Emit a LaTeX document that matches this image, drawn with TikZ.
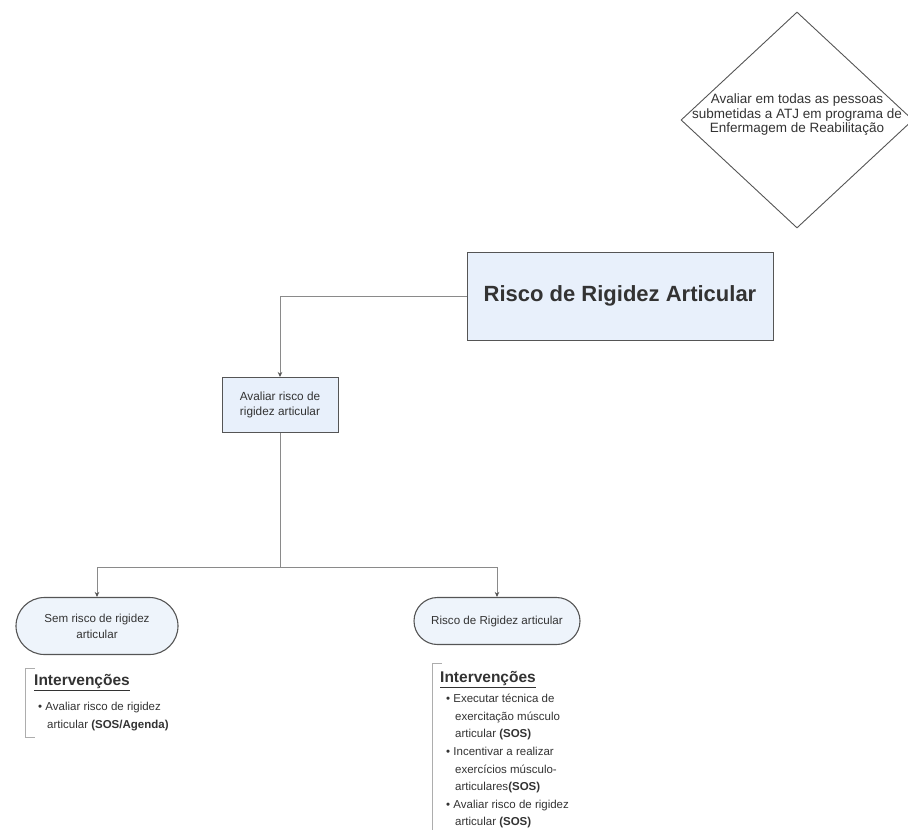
\documentclass[tikz,border=0pt]{standalone}
\usepackage{fontspec}
\setmainfont{Liberation Sans}
\usetikzlibrary{shapes.geometric,shapes.misc,arrows.meta}
\definecolor{boxfill}{HTML}{E8F0FB}
\definecolor{pillfill}{HTML}{EEF4FB}
\definecolor{edgec}{HTML}{555555}
\definecolor{connc}{HTML}{8A8A8A}
\definecolor{txt}{HTML}{333333}
\begin{document}
\begin{tikzpicture}[x=1pt,y=-1pt,
  box/.style={draw=edgec, fill=boxfill, line width=1pt, inner sep=0pt, text=txt},
  pill/.style={rounded rectangle, draw=edgec, fill=pillfill, line width=1.1pt, text=txt, align=center, inner sep=0pt, font=\fontsize{11.6}{16}\selectfont},
  conn/.style={draw=connc, line width=0.8pt, -{Stealth[length=5pt,width=4.5pt,color=edgec]}},
  plain/.style={draw=connc, line width=0.8pt},
  bracket/.style={draw=connc!70, line width=0.8pt},
  head/.style={anchor=west, font=\fontsize{15.5}{17}\selectfont\bfseries, text=txt, inner sep=0pt},
  body/.style={anchor=north west, align=left, font=\fontsize{11.5}{17.6}\selectfont, text=txt, inner sep=0pt}
]
\useasboundingbox (0,0) rectangle (908,830);

% decision diamond
\node[diamond, draw=edgec, line width=0.9pt, minimum width=232pt, minimum height=216pt, inner sep=0pt] (gate) at (797,120) {};
\node[align=center, font=\fontsize{13.5}{14.5}\selectfont, text=txt, inner sep=0pt] (gatetxt) at (797,115) {Avaliar em todas as pessoas\\submetidas a ATJ em programa de\\Enfermagem de Reabilitação};

% main box
\node[box, minimum width=306pt, minimum height=88pt, font=\fontsize{22}{25}\selectfont\bfseries] (main) at (620,296) {Risco de Rigidez Articular};

% assess box
\node[box, minimum width=116pt, minimum height=55pt, align=center, font=\fontsize{11.8}{15}\selectfont] (assess) at (280,405) {Avaliar risco de\\rigidez articular};

% outcome pills
\node[pill, minimum width=162pt, minimum height=57pt] (noRisk) at (97,626) {Sem risco de rigidez\\articular};
\node[pill, minimum width=166pt, minimum height=47pt] (risk) at (497,621) {Risco de Rigidez articular};

% connectors
\draw[conn] (main.west) -| (assess.north);
\coordinate (split) at (280,567);
\draw[plain] (assess.south) -- (split);
\draw[conn] (split) -| (noRisk.north);
\draw[conn] (split) -| (risk.north);

% left interventions
\draw[bracket] (35,668) -- (25,668) -- (25,737) -- (35,737);
\node[head] (lhead) at (34,683) {\underline{Intervenções}};
\node[body] (lbody) at (38,702) {• Avaliar risco de rigidez\\\hspace*{9pt}articular \textbf{(SOS/Agenda)}};

% right interventions
\draw[bracket] (442,663) -- (432,663) -- (432,832);
\node[head] (rhead) at (440,680) {\underline{Intervenções}};
\node[body] (rbody) at (446,694) {• Executar técnica de\\\hspace*{9pt}exercitação músculo\\\hspace*{9pt}articular \textbf{(SOS)}\\• Incentivar a realizar\\\hspace*{9pt}exercícios músculo-\\\hspace*{9pt}articulares\textbf{(SOS)}\\• Avaliar risco de rigidez\\\hspace*{9pt}articular \textbf{(SOS)}};
\end{tikzpicture}
\end{document}
